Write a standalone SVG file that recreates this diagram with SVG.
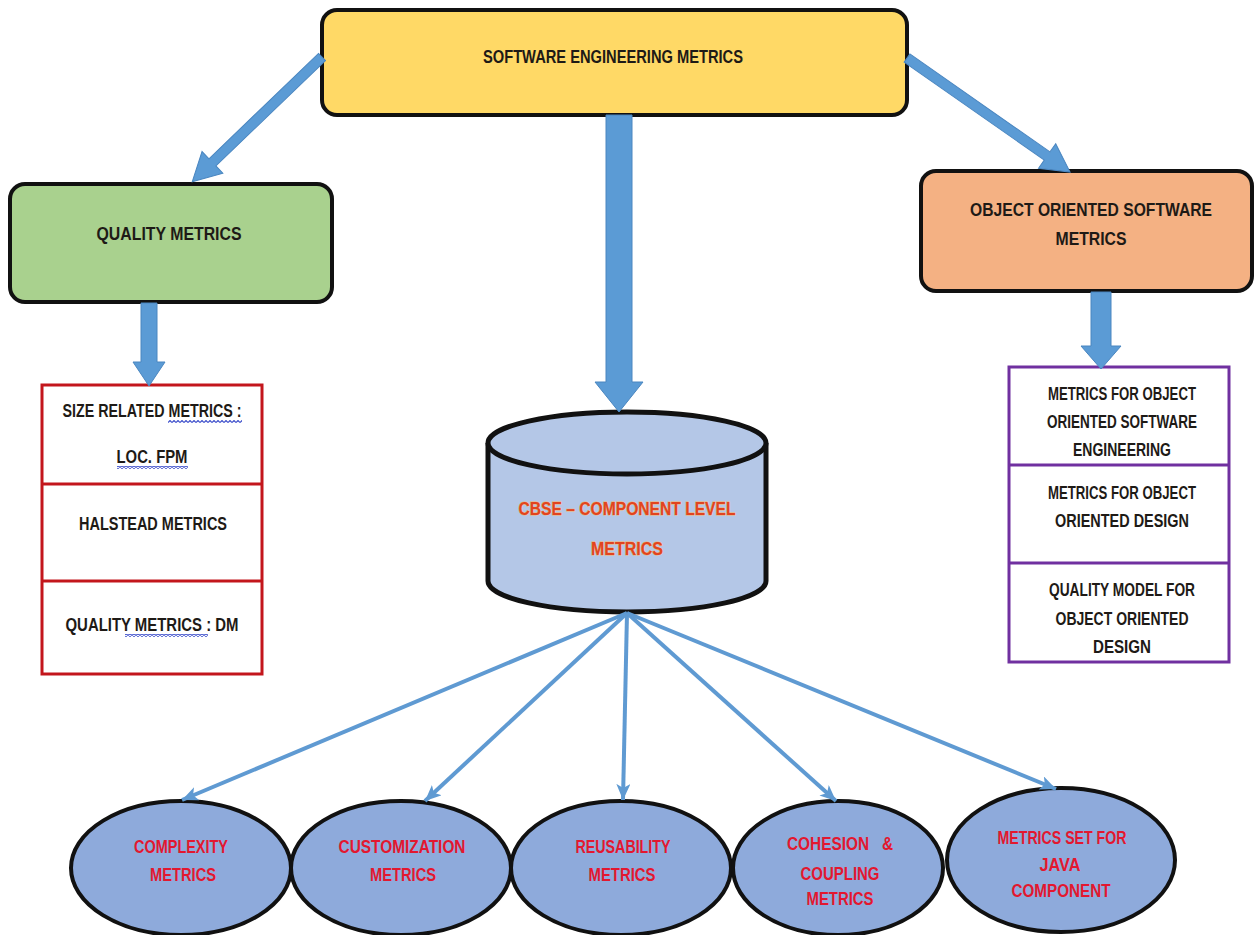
<svg xmlns="http://www.w3.org/2000/svg" width="1255" height="935" viewBox="0 0 1255 935">
  <style>
    .t { font-family: "Liberation Sans Narrow", "Liberation Sans", Arial, sans-serif; font-weight: bold; font-size: 18px; text-anchor: middle; fill: #1e1a16; }
    .red { fill: #e3172f; }
    .org { fill: #e2441f; stroke: #f7b36a; stroke-width: 0.8px; paint-order: stroke; }
    .box { stroke: #111; stroke-width: 4; }
    .blk { fill: #5b9bd5; stroke: #4a86c0; stroke-width: 1; }
    .ray { stroke: #5f9ad2; stroke-width: 4; fill: none; marker-end: url(#ah); }
    .ell { fill: #8eaadb; stroke: #111; stroke-width: 4; }
  </style>
  <defs>
    <marker id="ah" markerUnits="userSpaceOnUse" markerWidth="18" markerHeight="16" refX="16" refY="7" orient="auto">
      <path d="M0,0 L16,7 L0,14 L4,7 Z" fill="#5f9ad2"/>
    </marker>
    <pattern id="wave" width="4" height="3" patternUnits="userSpaceOnUse">
      <polyline points="0,2.5 2,0.5 4,2.5" fill="none" stroke="#4152cc" stroke-width="1.2"/>
    </pattern>
  </defs>
  <rect width="1255" height="935" fill="#ffffff"/>

  <g id="node-software-engineering-metrics">
    <rect class="box" x="322" y="10" width="585" height="105" rx="15" fill="#ffd966"/>
    <text class="t" x="613" y="63" textLength="260" lengthAdjust="spacingAndGlyphs">SOFTWARE ENGINEERING METRICS</text>
  </g>

  <g id="node-quality-metrics">
    <rect class="box" x="10" y="184" width="322" height="118" rx="15" fill="#a9d18e"/>
    <text class="t" x="169" y="240" textLength="145" lengthAdjust="spacingAndGlyphs">QUALITY METRICS</text>
  </g>

  <g id="node-oo-software-metrics">
    <rect class="box" x="921" y="171" width="331" height="120" rx="15" fill="#f4b183"/>
    <text class="t" x="1091" y="216" textLength="242" lengthAdjust="spacingAndGlyphs">OBJECT ORIENTED SOFTWARE</text>
    <text class="t" x="1091" y="245" textLength="71" lengthAdjust="spacingAndGlyphs">METRICS</text>
  </g>

  <g id="node-quality-list">
    <rect x="42" y="385" width="220" height="289" fill="#ffffff" stroke="#c3161c" stroke-width="3"/>
    <line x1="42" y1="484" x2="262" y2="484" stroke="#c3161c" stroke-width="3"/>
    <line x1="42" y1="581" x2="262" y2="581" stroke="#c3161c" stroke-width="3"/>
    <text class="t" x="152" y="417" textLength="179" lengthAdjust="spacingAndGlyphs">SIZE RELATED METRICS :</text>
    <rect x="168" y="420" width="74" height="3" fill="url(#wave)"/>
    <text class="t" x="152" y="463" textLength="71" lengthAdjust="spacingAndGlyphs">LOC. FPM</text>
    <rect x="117" y="466" width="71" height="3" fill="url(#wave)"/>
    <text class="t" x="153" y="530" textLength="148" lengthAdjust="spacingAndGlyphs">HALSTEAD METRICS</text>
    <text class="t" x="152" y="631" textLength="173" lengthAdjust="spacingAndGlyphs">QUALITY METRICS : DM</text>
    <rect x="125" y="634" width="83" height="3" fill="url(#wave)"/>
  </g>

  <g id="node-oo-list">
    <rect x="1009" y="367" width="220" height="295" fill="#ffffff" stroke="#7030a0" stroke-width="3"/>
    <line x1="1009" y1="465" x2="1229" y2="465" stroke="#7030a0" stroke-width="3"/>
    <line x1="1009" y1="563" x2="1229" y2="563" stroke="#7030a0" stroke-width="3"/>
    <text class="t" x="1122" y="400" textLength="148" lengthAdjust="spacingAndGlyphs">METRICS FOR OBJECT</text>
    <text class="t" x="1122" y="428" textLength="150" lengthAdjust="spacingAndGlyphs">ORIENTED SOFTWARE</text>
    <text class="t" x="1122" y="456" textLength="98" lengthAdjust="spacingAndGlyphs">ENGINEERING</text>
    <text class="t" x="1122" y="499" textLength="148" lengthAdjust="spacingAndGlyphs">METRICS FOR OBJECT</text>
    <text class="t" x="1122" y="527" textLength="134" lengthAdjust="spacingAndGlyphs">ORIENTED DESIGN</text>
    <text class="t" x="1122" y="596" textLength="146" lengthAdjust="spacingAndGlyphs">QUALITY MODEL FOR</text>
    <text class="t" x="1122" y="625" textLength="133" lengthAdjust="spacingAndGlyphs">OBJECT ORIENTED</text>
    <text class="t" x="1122" y="653" textLength="58" lengthAdjust="spacingAndGlyphs">DESIGN</text>
  </g>

  <g id="node-cbse">
    <path d="M488,443 V581 A139,31 0 0 0 766,581 V443" fill="#b4c7e7" stroke="#111" stroke-width="5"/>
    <ellipse cx="627" cy="443" rx="139" ry="31" fill="#b4c7e7" stroke="#111" stroke-width="5"/>
    <text class="t org" x="627" y="515" textLength="217" lengthAdjust="spacingAndGlyphs">CBSE – COMPONENT LEVEL</text>
    <text class="t org" x="627" y="555" textLength="72" lengthAdjust="spacingAndGlyphs">METRICS</text>
  </g>

  <g id="node-complexity">
    <ellipse class="ell" cx="181" cy="868" rx="110" ry="67"/>
    <text class="t red" x="181" y="853" textLength="94" lengthAdjust="spacingAndGlyphs">COMPLEXITY</text>
    <text class="t red" x="183" y="881" textLength="66" lengthAdjust="spacingAndGlyphs">METRICS</text>
  </g>
  <g id="node-customization">
    <ellipse class="ell" cx="401" cy="868" rx="110" ry="67"/>
    <text class="t red" x="402" y="853" textLength="127" lengthAdjust="spacingAndGlyphs">CUSTOMIZATION</text>
    <text class="t red" x="403" y="881" textLength="66" lengthAdjust="spacingAndGlyphs">METRICS</text>
  </g>
  <g id="node-reusability">
    <ellipse class="ell" cx="621" cy="868" rx="110" ry="67"/>
    <text class="t red" x="623" y="853" textLength="95" lengthAdjust="spacingAndGlyphs">REUSABILITY</text>
    <text class="t red" x="622" y="881" textLength="67" lengthAdjust="spacingAndGlyphs">METRICS</text>
  </g>
  <g id="node-cohesion-coupling">
    <ellipse class="ell" cx="838" cy="868" rx="105" ry="67"/>
    <text class="t red" x="840" y="850" textLength="106" lengthAdjust="spacingAndGlyphs" xml:space="preserve">COHESION   &amp;</text>
    <text class="t red" x="840" y="880" textLength="79" lengthAdjust="spacingAndGlyphs">COUPLING</text>
    <text class="t red" x="840" y="905" textLength="67" lengthAdjust="spacingAndGlyphs">METRICS</text>
  </g>
  <g id="node-java-component">
    <ellipse class="ell" cx="1061" cy="860" rx="114" ry="72"/>
    <text class="t red" x="1062" y="844" textLength="129" lengthAdjust="spacingAndGlyphs">METRICS SET FOR</text>
    <text class="t red" x="1060" y="871" textLength="41" lengthAdjust="spacingAndGlyphs">JAVA</text>
    <text class="t red" x="1061" y="897" textLength="99" lengthAdjust="spacingAndGlyphs">COMPONENT</text>
  </g>

  <g id="connectors">
    <path class="blk" transform="translate(322,57) rotate(136.12)" d="M0,-5 L152,-5 L152,-15 L180,0 L152,15 L152,5 L0,5 Z"/>
    <path class="blk" transform="translate(907,58) rotate(34.97)" d="M0,-5 L171,-5 L171,-15 L199,0 L171,15 L171,5 L0,5 Z"/>
    <path class="blk" d="M606,115 L632,115 L632,382 L643,382 L619,412 L595,382 L606,382 Z"/>
    <path class="blk" d="M141,303 L157,303 L157,362 L165,362 L149,386 L133,362 L141,362 Z"/>
    <path class="blk" d="M1091,292 L1111,292 L1111,346 L1121,346 L1101,369 L1081,346 L1091,346 Z"/>
    <line class="ray" x1="627" y1="613" x2="182" y2="800"/>
    <line class="ray" x1="627" y1="613" x2="425" y2="801"/>
    <line class="ray" x1="627" y1="613" x2="623" y2="800"/>
    <line class="ray" x1="627" y1="613" x2="836" y2="801"/>
    <line class="ray" x1="627" y1="613" x2="1056" y2="789"/>
  </g>
</svg>
